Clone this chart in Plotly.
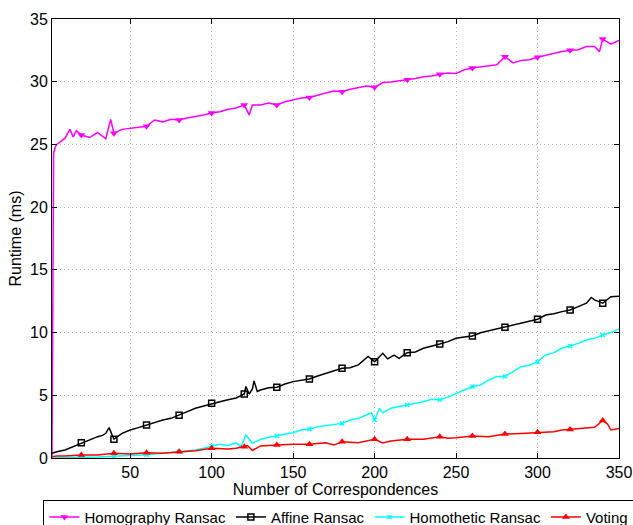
import plotly.graph_objects as go

# ---------------- data ----------------
X_HOMO = [2, 3, 4, 5, 10, 13, 15, 17, 20, 25, 30, 35, 38, 40, 45, 50, 55, 60, 65, 70, 75, 80, 85, 90, 95,
          100, 105, 110, 115, 120, 123, 125, 130, 135, 140, 145, 150, 155, 160, 165, 170, 175, 180, 185,
          190, 195, 200, 205, 210, 215, 220, 225, 230, 235, 240, 245, 250, 255, 260, 265, 270, 275, 280,
          285, 290, 295, 300, 305, 310, 315, 320, 325, 330, 335, 338, 340, 345, 350]
Y_HOMO = [0.1, 24.3, 24.8, 25.0, 25.5, 26.2, 25.6, 26.1, 25.75, 25.55, 25.95, 25.45, 27.0, 25.9, 26.2,
          26.3, 26.4, 26.45, 26.95, 26.8, 27.0, 26.95, 27.1, 27.2, 27.35, 27.5, 27.6, 27.8, 27.9, 28.15,
          27.35, 28.15, 28.15, 28.3, 28.15, 28.4, 28.55, 28.7, 28.75, 28.95, 29.1, 29.25, 29.2, 29.4,
          29.55, 29.65, 29.55, 29.93, 29.98, 30.05, 30.15, 30.25, 30.4, 30.45, 30.6, 30.7, 30.65, 30.95,
          31.1, 31.2, 31.25, 31.35, 32.0, 31.5, 31.7, 31.75, 31.95, 32.1, 32.3, 32.4, 32.5, 32.55, 32.8,
          32.8, 32.4, 33.4, 33.0, 33.3]

X_AFF = [2, 5, 10, 15, 20, 25, 30, 33, 35, 37, 40, 45, 50, 55, 60, 65, 70, 75, 80, 85, 90, 95, 100, 105,
         110, 115, 120, 121, 123, 125, 126, 128, 130, 135, 140, 145, 150, 155, 160, 165, 170, 175, 180,
         185, 190, 196, 200, 205, 208, 212, 215, 220, 225, 230, 235, 240, 245, 250, 255, 260, 265, 270,
         275, 280, 285, 290, 295, 300, 305, 310, 315, 320, 325, 330, 333, 335, 340, 345, 350]
Y_AFF = [0.37, 0.5, 0.64, 0.9, 1.22, 1.43, 1.7, 1.8, 1.97, 2.42, 1.5, 1.97, 2.23, 2.42, 2.63, 2.82, 3.03,
         3.16, 3.4, 3.7, 3.96, 4.15, 4.36, 4.49, 4.65, 4.79, 5.1, 5.7, 5.1, 5.5, 6.15, 5.3, 5.42, 5.6,
         5.64, 5.9, 6.09, 6.17, 6.3, 6.54, 6.75, 6.96, 7.15, 7.2, 7.42, 8.1, 7.68, 8.35, 7.9, 8.2, 7.95,
         8.4, 8.45, 8.75, 8.95, 9.09, 9.28, 9.54, 9.65, 9.73, 9.99, 10.15, 10.25, 10.42, 10.6, 10.79,
         10.95, 11.06, 11.4, 11.5, 11.67, 11.8, 12.07, 12.34, 12.8, 12.6, 12.34, 12.86, 12.9]

X_HOMOT = [2, 10, 20, 30, 40, 50, 60, 70, 80, 90, 95, 100, 105, 110, 115, 118, 121, 125, 130, 135, 140,
           145, 150, 155, 160, 165, 170, 175, 180, 185, 190, 195, 198, 200, 203, 205, 210, 215, 220, 225,
           230, 235, 240, 245, 250, 255, 260, 265, 270, 275, 280, 285, 290, 295, 300, 305, 310, 315, 320,
           325, 330, 335, 340, 345, 350]
Y_HOMOT = [0.0, 0.0, 0.05, 0.08, 0.12, 0.19, 0.26, 0.37, 0.5, 0.64, 0.77, 0.96, 1.1, 1.0, 1.2, 0.9, 1.83,
           1.17, 1.49, 1.66, 1.75, 1.91, 2.02, 2.23, 2.3, 2.5, 2.58, 2.71, 2.76, 3.03, 3.16, 3.43, 3.61,
           3.03, 3.96, 3.6, 3.96, 4.1, 4.23, 4.3, 4.49, 4.68, 4.65, 4.85, 5.16, 5.42, 5.69, 5.82, 6.22,
           6.5, 6.5, 6.88, 7.28, 7.4, 7.68, 8.21, 8.4, 8.75, 8.93, 9.14, 9.41, 9.54, 9.81, 10.0, 10.29]

X_VOTE = [2, 5, 10, 20, 30, 40, 50, 60, 70, 80, 90, 100, 105, 110, 115, 120, 122, 125, 128, 130, 140, 150,
          160, 170, 175, 180, 190, 200, 205, 210, 220, 230, 240, 245, 250, 260, 270, 280, 290, 300, 310,
          315, 320, 330, 335, 340, 343, 345, 350]
Y_VOTE = [0.1, 0.16, 0.15, 0.24, 0.24, 0.37, 0.32, 0.42, 0.37, 0.5, 0.58, 0.77, 0.75, 0.72, 0.78, 0.9,
          1.0, 0.6, 0.8, 0.96, 1.03, 1.1, 1.1, 1.22, 1.03, 1.3, 1.22, 1.49, 1.2, 1.35, 1.49, 1.49, 1.7,
          1.57, 1.62, 1.75, 1.7, 1.91, 1.96, 2.05, 2.1, 2.23, 2.28, 2.36, 2.45, 2.98, 2.7, 2.23, 2.36]

NAMES = ["Homography Ransac", "Affine Ransac", "Homothetic Ransac", "Voting"]
X_TICKS = [50, 100, 150, 200, 250, 300, 350]
Y_TICKS = [0, 5, 10, 15, 20, 25, 30, 35]
MARKER_STEP = 20

# ---------------- styles ----------------
STYLES = [
    dict(color="#FF00FF", symbol="triangle-down", size=7),
    dict(color="#000000", symbol="square-open", size=6),
    dict(color="#00FFFF", symbol="x-thin-open", size=4),
    dict(color="#FF0000", symbol="triangle-up", size=7),
]
SERIES = [(X_HOMO, Y_HOMO), (X_AFF, Y_AFF), (X_HOMOT, Y_HOMOT), (X_VOTE, Y_VOTE)]

fig = go.Figure()

# full lines
for (xs, ys), st, name in zip(SERIES, STYLES, NAMES):
    fig.add_trace(go.Scatter(x=xs, y=ys, mode="lines", showlegend=False, hoverinfo="skip",
                             line=dict(color=st["color"], width=1.5), name=name))

# sparse markers (with gaps so no extra line is drawn) -> legend entries
for (xs, ys), st, name in zip(SERIES, STYLES, NAMES):
    mx, my = [], []
    for xv, yv in zip(xs, ys):
        if xv % MARKER_STEP == 0:
            mx += [xv, None]
            my += [yv, None]
    fig.add_trace(go.Scatter(
        x=mx, y=my, mode="lines+markers", name=name, connectgaps=False,
        line=dict(color=st["color"], width=1.5),
        marker=dict(symbol=st["symbol"], size=st["size"], color=st["color"],
                    line=dict(color=st["color"], width=1.5 if "open" in st["symbol"] else 0)),
    ))

FONT = "Liberation Sans, Arial, Helvetica, sans-serif"
axis_common = dict(
    showline=True, linecolor="black", linewidth=1, mirror="ticks",
    ticks="inside", ticklen=5, tickcolor="black", tickwidth=1,
    showgrid=True, gridcolor="#b4b4b4", griddash="1px,3px", gridwidth=1,
    zeroline=False, tickfont=dict(size=16, color="black", family=FONT),
)

fig.update_layout(
    width=633, height=525,
    margin=dict(l=52, r=14, t=19, b=67, autoexpand=False),
    paper_bgcolor="white", plot_bgcolor="white",
    font=dict(family=FONT, size=16, color="black"),
    xaxis=dict(range=[2, 350], tickvals=X_TICKS, ticktext=[str(v) for v in X_TICKS],
               title=dict(text="Number of Correspondences", font=dict(size=16), standoff=2),
               **axis_common),
    yaxis=dict(range=[0, 35], tickvals=Y_TICKS, ticktext=[str(v) for v in Y_TICKS],
               title=dict(text="Runtime (ms)", font=dict(size=16), standoff=4),
               **axis_common),
    legend=dict(orientation="h", x=-0.015, xanchor="left", y=-0.095, yanchor="top",
                bgcolor="white", bordercolor="black", borderwidth=1,
                font=dict(size=15, family=FONT, color="black"),
                itemwidth=30, tracegroupgap=0),
    showlegend=True,
)

fig.write_html("out.html",
               config={"displayModeBar": False},
               post_script="document.body.style.margin='0px';document.body.style.overflow='hidden';")
